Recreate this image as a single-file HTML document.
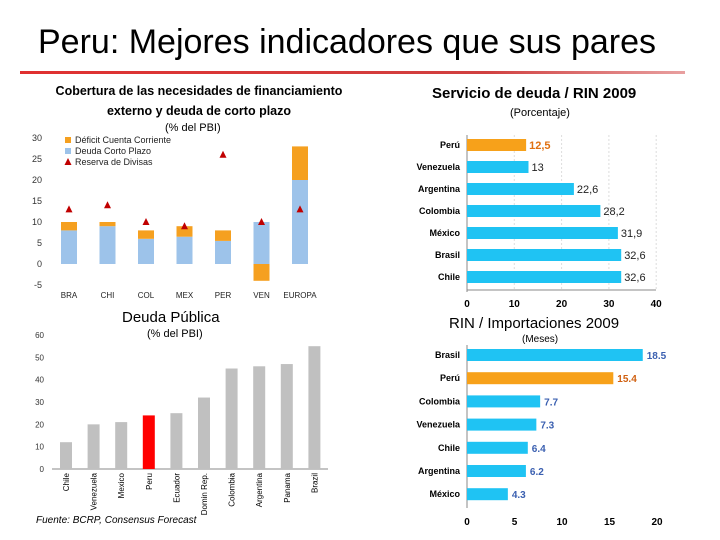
<!DOCTYPE html>
<html><head><meta charset="utf-8"><style>
body{margin:0;background:#fff;font-family:"Liberation Sans",sans-serif;}
#wrap{position:relative;width:720px;height:540px;overflow:hidden;}
.t{position:absolute;white-space:nowrap;}
</style></head><body>
<div id="wrap">
<div class="t" style="left:38px;top:23px;font-size:34px;color:#000;">Peru: Mejores indicadores que sus pares</div>
<div style="position:absolute;left:20px;top:71px;width:665px;height:3px;background:linear-gradient(90deg,#e03030,#d04040 70%,#e8a0a0);"></div>
<div class="t" style="left:24px;top:81px;width:350px;text-align:center;font-size:12.5px;font-weight:bold;line-height:20px;">Cobertura de las necesidades de financiamiento<br>externo y deuda de corto plazo</div>
<div class="t" style="left:165px;top:122px;font-size:11px;">(% del PBI)</div>
<div class="t" style="left:432px;top:85px;font-size:15px;font-weight:bold;">Servicio de deuda / RIN 2009</div>
<div class="t" style="left:510px;top:107px;font-size:11px;">(Porcentaje)</div>
<div class="t" style="left:122px;top:309px;font-size:15px;">Deuda Pública</div>
<div class="t" style="left:147px;top:328px;font-size:11px;">(% del PBI)</div>
<div class="t" style="left:449px;top:315px;font-size:15px;">RIN / Importaciones 2009</div>
<div class="t" style="left:522px;top:334px;font-size:10px;">(Meses)</div>
<div class="t" style="left:36px;top:515px;font-size:10px;font-style:italic;">Fuente: BCRP, Consensus Forecast</div>
<svg id="svg" width="720" height="540" style="position:absolute;left:0;top:0"></svg>
</div>
<script>
// Chart 1
const c1Cats=["BRA","CHI","COL","MEX","PER","VEN","EUROPA"];
const c1Deuda=[8,9,6,6.5,5.5,10,20];
const c1Deficit=[2,1,2,2.5,2.5,-4,8];
const c1Reserva=[13,14,10,9,26,10,13];
const c1Ticks=[30,25,20,15,10,5,0,-5];
// Chart 2
const c2Cats=["Perú","Venezuela","Argentina","Colombia","México","Brasil","Chile"];
const c2Vals=[12.5,13,22.6,28.2,31.9,32.6,32.6];
const c2Labels=["12,5","13","22,6","28,2","31,9","32,6","32,6"];
const c2Ticks=[0,10,20,30,40];
// Chart 3
const c3Cats=["Chile","Venezuela","Mexico","Peru","Ecuador","Domin Rep.","Colombia","Argentina","Panama","Brazil"];
const c3Vals=[12,20,21,24,25,32,45,46,47,55];
const c3Ticks=[0,10,20,30,40,50,60];
// Chart 4
const c4Cats=["Brasil","Perú","Colombia","Venezuela","Chile","Argentina","México"];
const c4Vals=[18.5,15.4,7.7,7.3,6.4,6.2,4.3];
const c4Labels=["18.5","15.4","7.7","7.3","6.4","6.2","4.3"];
const c4Ticks=[0,5,10,15,20];

const svg=document.getElementById('svg');const NS="http://www.w3.org/2000/svg";
function mk(tag,attrs,name,text){const e=document.createElementNS(NS,tag);for(const k in attrs)e.setAttribute(k,attrs[k]);


if(text!==undefined)e.textContent=text;svg.appendChild(e);return e;}

// chart 1
const y1=v=>264-v*4.2;const x1=i=>69+i*38.5;
c1Ticks.forEach(t=>{mk('text',{x:42,y:y1(t)+3,'font-size':9,'text-anchor':'end',fill:'#333'},'c1-ytick',String(t));});
c1Cats.forEach((c,i)=>{
 const d=c1Deuda[i],f=c1Deficit[i];
 mk('rect',{x:x1(i)-8,y:y1(d),width:16,height:d*4.2,fill:'#9dc3ea'},'c1-bar-deuda-'+c);
 const a=f>=0?d:0,b=f>=0?d+f:f;
 mk('rect',{x:x1(i)-8,y:y1(Math.max(a,b)),width:16,height:Math.abs(f)*4.2,fill:'#f5a020'},'c1-bar-deficit-'+c);
 const ry=y1(c1Reserva[i]);
 mk('polygon',{points:`${x1(i)},${ry-4} ${x1(i)-3.5},${ry+3} ${x1(i)+3.5},${ry+3}`,fill:'#c00000'},'c1-reserva-'+c);
 mk('text',{x:x1(i),y:298,'font-size':8,'text-anchor':'middle',fill:'#222'},'c1-xlabel',c);
});
mk('rect',{x:65,y:137,width:6,height:6,fill:'#f5a020'},'c1-legend-deficit-swatch');
mk('text',{x:75,y:143,'font-size':9,fill:'#222'},'c1-legend-deficit','Déficit Cuenta Corriente');
mk('rect',{x:65,y:148,width:6,height:6,fill:'#9dc3ea'},'c1-legend-deuda-swatch');
mk('text',{x:75,y:154,'font-size':9,fill:'#222'},'c1-legend-deuda','Deuda Corto Plazo');
mk('polygon',{points:"68,158 64.5,165 71.5,165",fill:'#c00000'},'c1-legend-reserva-marker');
mk('text',{x:75,y:165,'font-size':9,fill:'#222'},'c1-legend-reserva','Reserva de Divisas');

// chart 2
const x2=v=>467+v*4.73;const y2=i=>145+i*22;
c2Ticks.forEach(t=>{if(t>0)mk('line',{x1:x2(t),y1:135,x2:x2(t),y2:290,stroke:'#ddd','stroke-dasharray':'2,2'},'c2-grid');
 mk('text',{x:x2(t),y:307,'font-size':10,'font-weight':'bold','text-anchor':'middle'},'c2-xtick',String(t));});
mk('line',{x1:467,y1:135,x2:467,y2:292,stroke:'#888'},'c2-axis');
mk('line',{x1:467,y1:290,x2:656,y2:290,stroke:'#888'},'c2-xaxis');
c2Cats.forEach((c,i)=>{const col=i==0?'#f7a11a':'#1fc3f3';
 mk('rect',{x:467,y:y2(i)-6,width:c2Vals[i]*4.73,height:12,fill:col},'c2-bar-'+c);
 mk('text',{x:460,y:y2(i)+3,'font-size':9,'font-weight':'bold','text-anchor':'end'},'c2-ylabel',c);
 mk('text',{x:x2(c2Vals[i])+3,y:y2(i)+4,'font-size':11,fill:i==0?'#e07010':'#222','font-weight':i==0?'bold':'normal'},'c2-value',c2Labels[i]);});

// chart 3
const y3=v=>469-v*2.233;const x3=i=>66+i*27.6;
c3Ticks.forEach(t=>mk('text',{x:44,y:y3(t)+3,'font-size':8,'text-anchor':'end',fill:'#333'},'c3-ytick',String(t)));
mk('line',{x1:52,y1:469,x2:328,y2:469,stroke:'#888'},'c3-xaxis');
c3Cats.forEach((c,i)=>{mk('rect',{x:x3(i)-6,y:y3(c3Vals[i]),width:12,height:c3Vals[i]*2.233,fill:c=="Peru"?'#ff0000':'#c0c0c0'},'c3-bar-'+c);
 mk('text',{transform:`translate(${x3(i)+3},${473}) rotate(-90)`,'font-size':8,'text-anchor':'end'},'c3-xlabel',c);});

// chart 4
const x4=v=>467+v*9.5;const y4=i=>355+i*23.2;
c4Ticks.forEach(t=>mk('text',{x:x4(t),y:525,'font-size':10,'font-weight':'bold','text-anchor':'middle'},'c4-xtick',String(t)));
mk('line',{x1:467,y1:345,x2:467,y2:508,stroke:'#888'},'c4-axis');
c4Cats.forEach((c,i)=>{const p=c=="Perú";
 mk('rect',{x:467,y:y4(i)-6,width:c4Vals[i]*9.5,height:12,fill:p?'#f7a11a':'#1fc3f3'},'c4-bar-'+c);
 mk('text',{x:460,y:y4(i)+3,'font-size':9,'font-weight':'bold','text-anchor':'end'},'c4-ylabel',c);
 mk('text',{x:x4(c4Vals[i])+4,y:y4(i)+4,'font-size':10,'font-weight':'bold',fill:p?'#d06010':'#3a5fb0'},'c4-value',c4Labels[i]);});
</script>
</body></html>
